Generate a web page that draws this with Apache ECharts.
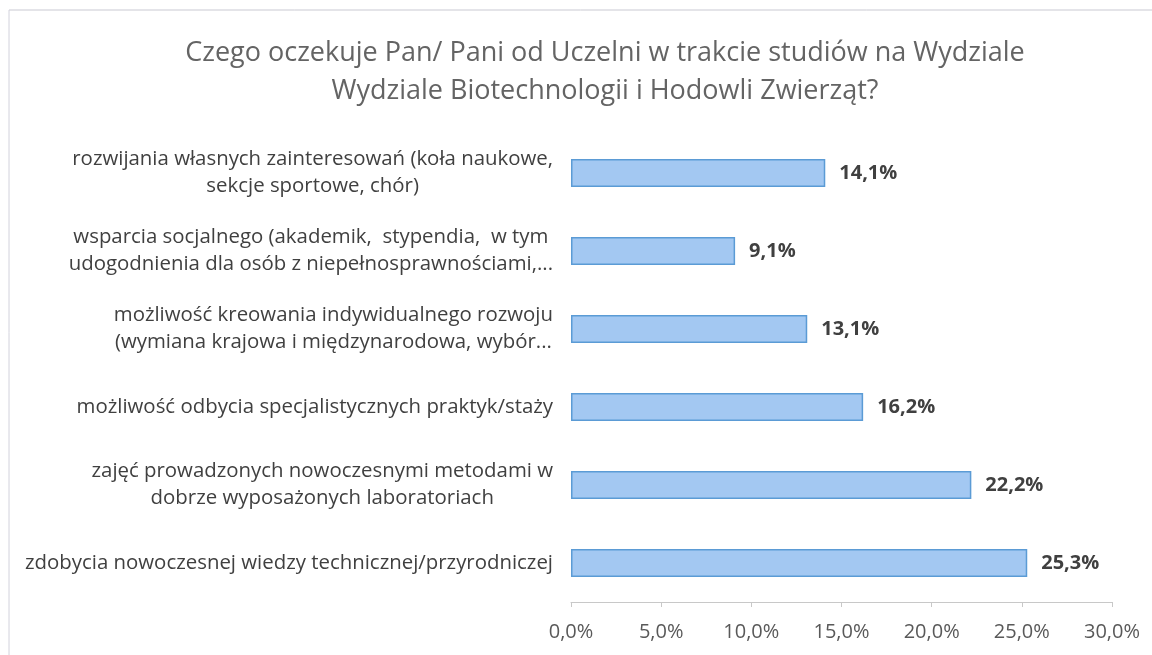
<!DOCTYPE html>
<html>
<head>
<meta charset="utf-8">
<script src="https://cdn.jsdelivr.net/npm/echarts@6/dist/echarts.min.js"></script>
<style>
  html, body { margin: 0; padding: 0; background: #fff; }
  #chart { width: 1152px; height: 655px; }
</style>
</head>
<body>
<div id="chart"></div>
<script>
const categories = [
  'rozwijania własnych zainteresowań (koła naukowe,\nsekcje sportowe, chór)',
  'wsparcia socjalnego (akademik,  stypendia,  w tym\nudogodnienia dla osób z niepełnosprawnościami,...',
  'możliwość kreowania indywidualnego rozwoju\n(wymiana krajowa i międzynarodowa, wybór...',
  'możliwość odbycia specjalistycznych praktyk/staży',
  'zajęć prowadzonych nowoczesnymi metodami w\ndobrze wyposażonych laboratoriach',
  'zdobycia nowoczesnej wiedzy technicznej/przyrodniczej'
]
const values = [14.1, 9.1, 13.1, 16.2, 22.2, 25.3]
const titleText = 'Czego oczekuje Pan/ Pani od Uczelni w trakcie studiów na Wydziale\nWydziale Biotechnologii i Hodowli Zwierząt?'

const fmt = v => v.toFixed(1).replace('.', ',') + '%'

const chart = echarts.init(document.getElementById('chart'))
chart.setOption({
  backgroundColor: '#fff',
  animation: false,
  textStyle: { fontFamily: 'Open Sans' },
  // chart frame (top and left edge only, as in the scan)
  graphic: [
    { type: 'line', shape: { x1: 9, y1: 10, x2: 1152, y2: 10 }, style: { stroke: '#c9c9d2', lineWidth: 1 }, silent: true },
    { type: 'line', shape: { x1: 9, y1: 10, x2: 9, y2: 655 }, style: { stroke: '#d2d2dc', lineWidth: 1 }, silent: true }
  ],
  title: {
    text: titleText,
    left: 600,
    textAlign: 'center',
    top: 29,
    textStyle: {
      fontFamily: 'Open Sans',
      fontWeight: 'normal',
      fontSize: 27,
      lineHeight: 38,
      color: '#646464'
    }
  },
  grid: {
    left: 571,
    right: 40,
    top: 134,
    bottom: 53
  },
  xAxis: {
    type: 'value',
    min: 0,
    max: 30,
    interval: 5,
    splitLine: { show: false },
    axisLine: { show: true, lineStyle: { color: '#c8c8c8' } },
    axisTick: { show: true, length: 5, lineStyle: { color: '#c8c8c8' } },
    axisLabel: {
      formatter: fmt,
      color: '#595959',
      fontSize: 20,
      margin: 20
    }
  },
  yAxis: {
    type: 'category',
    inverse: true,
    data: categories,
    axisLine: { show: false },
    axisTick: { show: false },
    axisLabel: {
      margin: 18,
      color: '#404040',
      formatter: v => v.split('\n').map(l => '{c|' + l + '}').join('\n'),
      rich: {
        c: { align: 'center', fontSize: 20.4, lineHeight: 27, color: '#404040', fontFamily: 'Open Sans' }
      }
    }
  },
  series: [{
    type: 'bar',
    data: values,
    barWidth: 28,
    itemStyle: {
      color: '#a3c8f2',
      borderColor: '#5b9bd5',
      borderWidth: 1.5
    },
    label: {
      show: true,
      position: 'right',
      distance: 14,
      formatter: p => fmt(p.value),
      color: '#404040',
      fontWeight: 'bold',
      fontSize: 20
    }
  }]
})
</script>
</body>
</html>
